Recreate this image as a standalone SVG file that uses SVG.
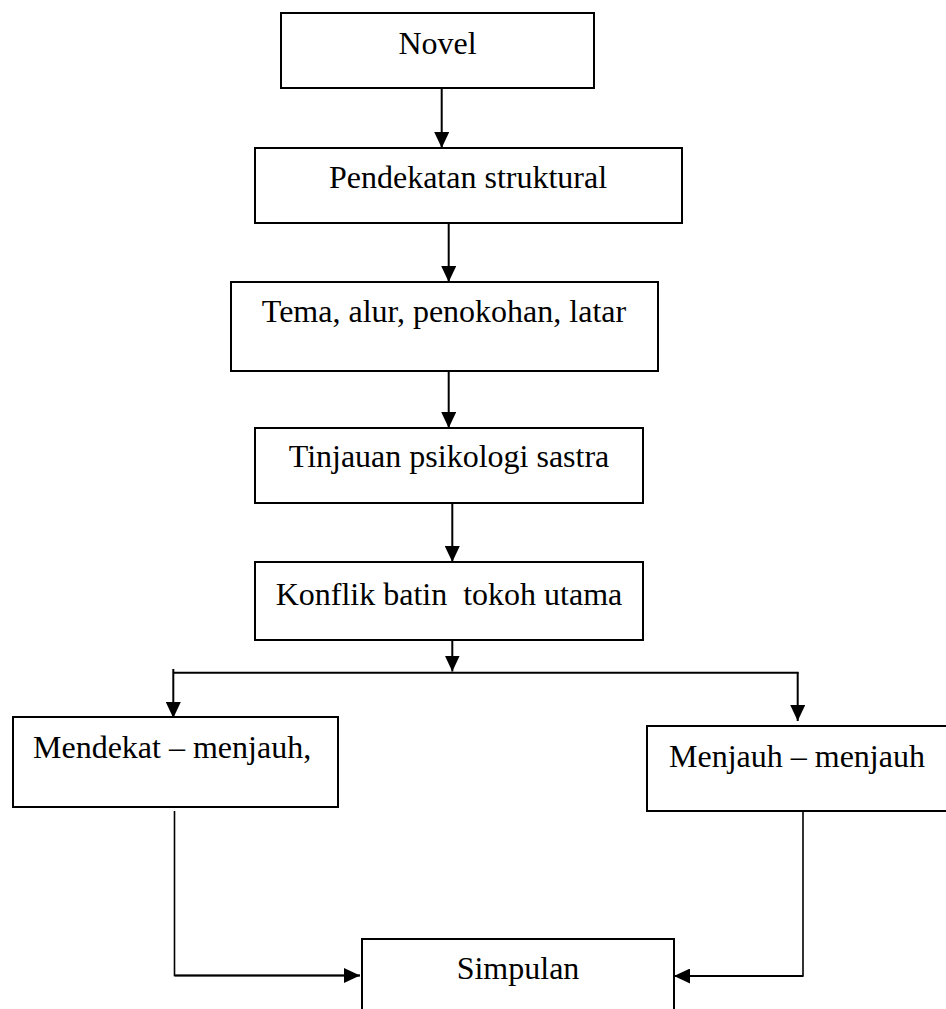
<svg xmlns="http://www.w3.org/2000/svg" width="946" height="1009" viewBox="0 0 946 1009">
<style>
.box{fill:#fff;stroke:#000;stroke-width:2}
.lbl{font-family:"Liberation Serif","Times New Roman",serif;font-size:32px;fill:#000;white-space:pre}
.c{stroke:#000;stroke-width:2;fill:none}
.t{stroke:#000;stroke-width:1.6;fill:none}
</style>
<defs>
<marker id="ah" markerUnits="userSpaceOnUse" markerWidth="16" markerHeight="15" refX="16" refY="7.5" orient="auto">
<path d="M0,0 L16,7.5 L0,15 z" fill="#000"/>
</marker>
</defs>
<rect width="946" height="1009" fill="#fff"/>
<g id="n-novel"><rect class="box" x="281" y="13" width="313" height="75"/><text class="lbl" x="437.5" y="54" text-anchor="middle">Novel</text></g>
<g id="n-pendekatan"><rect class="box" x="255" y="148" width="427" height="75"/><text class="lbl" x="468" y="188" text-anchor="middle">Pendekatan struktural</text></g>
<g id="n-tema"><rect class="box" x="231" y="282" width="427" height="89"/><text class="lbl" x="444" y="322" text-anchor="middle">Tema, alur, penokohan, latar</text></g>
<g id="n-tinjauan"><rect class="box" x="255" y="428" width="388" height="75"/><text class="lbl" x="449" y="467" text-anchor="middle">Tinjauan psikologi sastra</text></g>
<g id="n-konflik"><rect class="box" x="255" y="562" width="388" height="78"/><text class="lbl" x="449" y="605" text-anchor="middle" xml:space="preserve">Konflik batin  tokoh utama</text></g>
<g id="n-mendekat"><rect class="box" x="13" y="717" width="325" height="90"/><text class="lbl" x="33" y="758">Mendekat – menjauh,</text></g>
<g id="n-menjauh"><rect class="box" x="647" y="726" width="310" height="85"/><text class="lbl" x="669" y="767">Menjauh – menjauh</text></g>
<g id="n-simpulan"><rect class="box" x="362" y="939" width="312" height="90"/><text class="lbl" x="518" y="979" text-anchor="middle">Simpulan</text></g>
<g id="connectors">
<line class="c" x1="441.7" y1="88" x2="441.7" y2="148" marker-end="url(#ah)"/>
<line class="c" x1="448.7" y1="223" x2="448.7" y2="282" marker-end="url(#ah)"/>
<line class="c" x1="448.7" y1="371" x2="448.7" y2="428" marker-end="url(#ah)"/>
<line class="c" x1="452.3" y1="503" x2="452.3" y2="562" marker-end="url(#ah)"/>
<line class="c" x1="452.3" y1="640" x2="452.3" y2="671.5" marker-end="url(#ah)"/>
<line class="c" x1="173.3" y1="672.7" x2="798.7" y2="672.7"/>
<line class="c" x1="173.3" y1="669" x2="173.3" y2="718" marker-end="url(#ah)"/>
<line class="c" x1="797.7" y1="672.7" x2="797.7" y2="721" marker-end="url(#ah)"/>
<polyline class="t" points="174.5,811 174.5,975.5 360,975.5"/>
<line class="c" x1="174.5" y1="975.5" x2="360" y2="975.5" marker-end="url(#ah)"/>
<polyline class="t" points="803,811 803,976 676,976"/>
<line class="c" x1="803" y1="976" x2="674" y2="976" marker-end="url(#ah)"/>
</g>
</svg>
